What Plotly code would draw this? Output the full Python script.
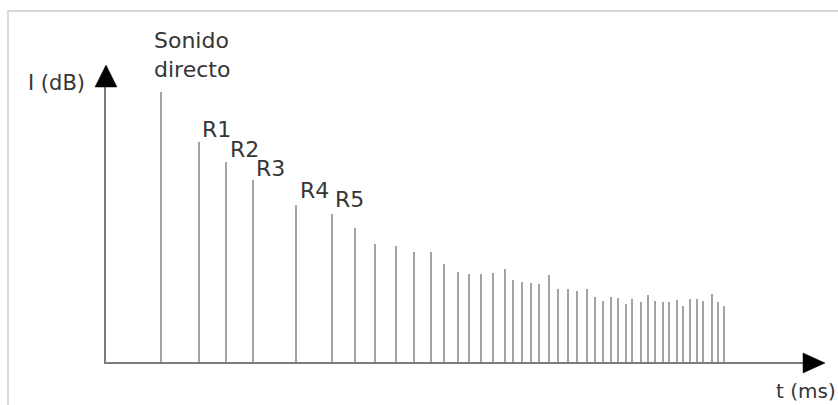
import plotly.graph_objects as go

# ---- data (t in ms, I in dB) ----
t_ms = [28, 47, 60.5, 74, 95.5, 113.5, 125, 135, 145.5, 154.5, 163, 169.5, 176.5, 182, 188,
        194, 200, 204, 208.5, 213, 217, 222, 226.5, 231.5, 236, 241, 245, 249, 253, 256.5,
        260.5, 263.5, 268, 271.5, 275, 279, 282, 286, 289, 292.5, 296, 299, 303.5, 306.5, 309.5]
level_db = [90.3, 73.7, 67, 61, 52.7, 49.7, 45, 39.7, 39, 37, 37, 33, 30.3, 29.7, 29.7,
            30, 31.3, 27.7, 27, 26.7, 26.3, 29.3, 24.7, 24.7, 24, 24.7, 22, 20.7, 22, 21.7,
            19.7, 21.3, 20.3, 22.7, 20.7, 20.3, 20.3, 21, 19, 21.3, 21.3, 20.7, 23, 20.3, 19]
labels = ["Sonido<br>directo", "R1", "R2", "R3", "R4", "R5"]
x_title = "t (ms)"
y_title = "I (dB)"

W, H = 838, 405
X_RANGE = [-52.5, 366.5]
Y_RANGE = [-14, 121]
X_AXIS_END = 360
Y_AXIS_END = 99.3

FONT = "DejaVu Sans"
TXT = "#363636"
STEM = "#a3a3a3"
AXIS = "#7c7c7c"

fig = go.Figure()
fig.add_trace(go.Bar(x=t_ms, y=level_db, width=1.0,
                     marker=dict(color=STEM, line=dict(width=0)),
                     hoverinfo="skip"))

shapes = []
# axes
shapes.append(dict(type="line", xref="x", yref="y", x0=0, x1=0, y0=0, y1=Y_AXIS_END - 6,
                   line=dict(color=AXIS, width=2)))
shapes.append(dict(type="line", xref="x", yref="y", x0=-0.5, x1=X_AXIS_END - 10, y0=0, y1=0,
                   line=dict(color=AXIS, width=2)))
# arrow heads
shapes.append(dict(type="path", xref="x", yref="y",
                   path=f"M 0.5,{Y_AXIS_END} L -5,{Y_AXIS_END-7.3} L 6,{Y_AXIS_END-7.3} Z",
                   fillcolor="black", line=dict(color="black", width=0.5)))
shapes.append(dict(type="path", xref="x", yref="y",
                   path=f"M {X_AXIS_END},0 L {X_AXIS_END-11},3.33 L {X_AXIS_END-11},-3.33 Z",
                   fillcolor="black", line=dict(color="black", width=0.5)))
# light frame (cropped box)
fx = 8 / W
fy = 1 - 11 / H
shapes.append(dict(type="path", xref="paper", yref="paper",
                   path=f"M {fx},-0.05 L {fx},{fy} L 1.05,{fy}",
                   line=dict(color="#cdcdcd", width=1.5)))

annotations = []
# label offsets (pixels) relative to the stem tops
offsets = [(-9, 8), (1, -2), (2, -2), (1, -3), (2, 0), (1, 0)]
for i, lab in enumerate(labels):
    dx, dy = offsets[i]
    annotations.append(dict(x=t_ms[i], y=level_db[i], xref="x", yref="y", text=lab,
                            showarrow=False, xanchor="left", yanchor="bottom", align="left",
                            xshift=dx, yshift=dy,
                            font=dict(family=FONT, size=22, color=TXT)))
annotations.append(dict(x=26 / W, y=1 - 83 / H, xref="paper", yref="paper", text=y_title,
                        showarrow=False, xanchor="left", yanchor="middle",
                        font=dict(family=FONT, size=21, color=TXT)))
annotations.append(dict(x=774 / W, y=1 - 391 / H, xref="paper", yref="paper", text=x_title,
                        showarrow=False, xanchor="left", yanchor="middle",
                        font=dict(family=FONT, size=20, color=TXT)))

fig.update_layout(
    width=W, height=H,
    margin=dict(l=0, r=0, t=0, b=0),
    paper_bgcolor="white", plot_bgcolor="white",
    showlegend=False,
    xaxis=dict(range=X_RANGE, visible=False, fixedrange=True),
    yaxis=dict(range=Y_RANGE, visible=False, fixedrange=True),
    shapes=shapes, annotations=annotations,
)
fig.write_html("out.html", config={"displayModeBar": False},
               post_script="document.body.style.margin='0';document.body.style.overflow='hidden';")
